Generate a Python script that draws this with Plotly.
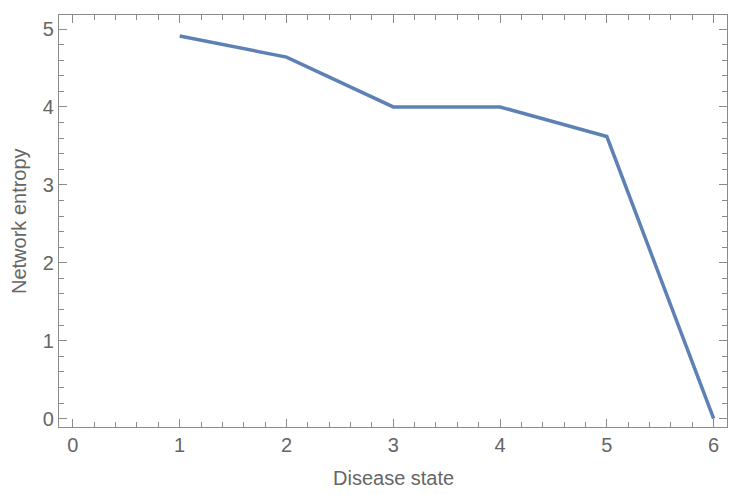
import plotly.graph_objects as go

disease_state = [1, 2, 3, 4, 5, 6]
network_entropy = [4.91, 4.64, 4.0, 4.0, 3.62, 0.0]
x_ticks = [0, 1, 2, 3, 4, 5, 6]
y_ticks = [0, 1, 2, 3, 4, 5]

fnt = "Liberation Sans, Arial"
fig = go.Figure()
fig.add_trace(go.Scatter(x=disease_state, y=network_entropy, mode="lines",
                         line=dict(color="#5E81B5", width=3.5), showlegend=False))

axis_common = dict(
    showgrid=False, zeroline=False, showline=True, linecolor="#8a8a8a", linewidth=1.3,
    mirror="allticks", ticks="inside", ticklen=8, tickwidth=1, tickcolor="#8a8a8a",
    tickfont=dict(family=fnt, size=20, color="#666666"), automargin=False,
)
fig.update_xaxes(**axis_common, range=[-0.13, 6.125], tickvals=x_ticks,
                 minor=dict(ticks="inside", dtick=0.2, tick0=0, ticklen=5, tickcolor="#8a8a8a"))
fig.update_yaxes(**axis_common, range=[-0.107, 5.18], tickvals=y_ticks,
                 minor=dict(ticks="inside", dtick=0.2, tick0=0, ticklen=5, tickcolor="#8a8a8a"))
fig.update_layout(
    width=741, height=495, margin=dict(l=59, r=14, t=15, b=68),
    plot_bgcolor="white", paper_bgcolor="white",
    annotations=[
        dict(text="Disease state", xref="paper", yref="paper", x=0.5, y=0, yshift=-38,
             xanchor="center", yanchor="top", showarrow=False,
             font=dict(family=fnt, size=20, color="#666666")),
        dict(text="Network entropy", xref="paper", yref="paper", x=0, y=0.5, xshift=-40,
             xanchor="center", yanchor="middle", textangle=-90, showarrow=False,
             font=dict(family=fnt, size=20, color="#666666")),
    ],
)
fig.write_html("out.html", config={"displayModeBar": False},
               post_script="document.body.style.margin='0px';")
